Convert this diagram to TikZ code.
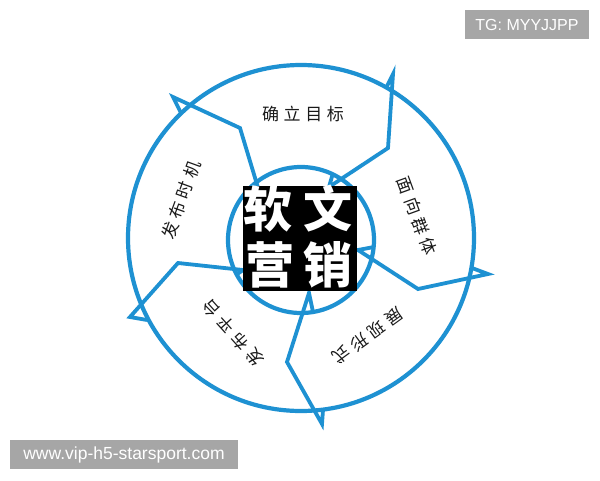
\documentclass[tikz,border=0pt]{standalone}
\usepackage{fontspec}
\setmainfont{Liberation Sans}
\newfontfamily\cjk{Noto Sans CJK SC}
\definecolor{ringblue}{RGB}{30,145,210}
\definecolor{markgray}{RGB}{166,166,166}
\newcommand{\gapcn}{\hspace{4.6pt}}
\begin{document}
\begin{tikzpicture}[x=1pt,y=-1pt,
    ring/.style={draw=ringblue,line width=4.2pt},
    divider/.style={draw=ringblue,line width=3.8pt,line join=miter,miter limit=6},
    stage/.style={font=\cjk\fontsize{17}{17}\selectfont,text=black!90,inner sep=0pt},
    title/.style={font=\cjk\bfseries\fontsize{49}{49}\selectfont,text=white,inner sep=0pt},
    watermark/.style={fill=markgray,text=white,font=\fontsize{16}{16}\selectfont,inner sep=0pt}]

                \useasboundingbox[fill=white] (0,0) rectangle (600,480);

                % rings
                \draw[ring] (301,238) circle (173pt);
                \draw[ring] (301,240) circle (73pt);

                % chevron dividers
                \draw[divider] (250,187) -- (259,191) -- (240,128) -- (173,97) -- (181,113);
                \draw[divider] (333,173) -- (329,187) -- (388,148) -- (393,74) -- (386,88);
                \draw[divider] (374,247) -- (358,250) -- (418,289) -- (488,274) -- (472,268);
                \draw[divider] (313,312) -- (309,293) -- (287,362) -- (322,424) -- (323,410);
                \draw[divider] (236,275) -- (243,270) -- (178,263) -- (130,317) -- (147,320);

                % centre box
                \node[fill=black,minimum width=114pt,minimum height=105pt,inner sep=0pt] (box) at (300,238.5) {};
                \node[title] (ruan) at (268,209) {软};
                \node[title] (wen) at (328,209) {文};
                \node[title] (ying) at (270,265) {营};
                \node[title] (xiao) at (328,265) {销};

                % stage labels
                \node[stage] (goal) at (303,114) {确\gapcn 立\gapcn 目\gapcn 标};
                \node[stage,rotate=-70] (group) at (417,216) {面\gapcn 向\gapcn 群\gapcn 体};
                \node[stage,rotate=-144] (form) at (368,336) {展\gapcn 现\gapcn 形\gapcn 式};
                \node[stage,rotate=132] (platform) at (233,333) {发\gapcn 布\gapcn 平\gapcn 台};
                \node[stage,rotate=70] (timing) at (181,200) {发\gapcn 布\gapcn 时\gapcn 机};

                % watermarks
                \node[watermark,minimum width=124pt,minimum height=29pt] (tg) at (527,24.5) {TG: MYYJJPP};
                \node[watermark,minimum width=228pt,minimum height=29pt,font=\fontsize{17.5}{17.5}\selectfont] (site) at (124,454.5) {www.vip-h5-starsport.com};
            \end{tikzpicture}
\end{document}
